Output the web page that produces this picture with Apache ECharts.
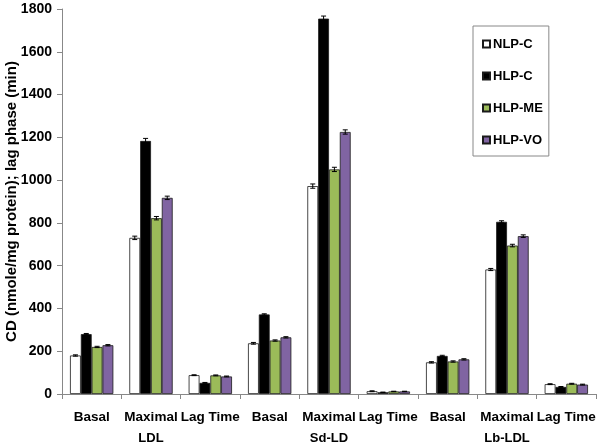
<!DOCTYPE html>
<html>
<head>
<meta charset="utf-8">
<script src="https://cdn.jsdelivr.net/npm/echarts@6/dist/echarts.min.js"></script>
<style>html,body{margin:0;padding:0;background:#fff}#c{width:600px;height:448px}</style>
</head>
<body>
<div id="c"></div>
<script>
const categories = ['Basal','Maximal','Lag Time','Basal','Maximal','Lag Time','Basal','Maximal','Lag Time'];
const groups = ['LDL','Sd-LD','Lb-LDL'];
const seriesNames = ['NLP-C','HLP-C','HLP-ME','HLP-VO'];
const nlpC  = [180, 730, 88, 237, 972, 13, 148, 582, 46];
const hlpC  = [280, 1183, 52, 372, 1755, 8, 178, 805, 33];
const hlpME = [220, 822, 87, 250, 1050, 12, 152, 694, 48];
const hlpVO = [228, 917, 82, 265, 1225, 12, 162, 738, 44];
const nlpCErr  = [3, 8, 2, 4, 10, 2, 3, 5, 2];
const hlpCErr  = [3, 12, 2, 3, 12, 1, 3, 5, 2];
const hlpMEErr = [3, 8, 2, 3, 10, 1, 3, 6, 2];
const hlpVOErr = [3, 8, 2, 3, 10, 1, 3, 6, 2];
const yTicks = [0, 200, 400, 600, 800, 1000, 1200, 1400, 1600, 1800];

const values = [nlpC, hlpC, hlpME, hlpVO];
const errs = [nlpCErr, hlpCErr, hlpMEErr, hlpVOErr];
const colors = ['#ffffff', '#000000', '#9bbb59', '#8064a2'];
const gapFrac = 0.27;
const FONT = '"Liberation Sans", Arial, sans-serif';

const series = [];
values.forEach((vals, i) => {
  series.push({
    name: seriesNames[i], type: 'bar', data: vals,
    barGap: '0%', barCategoryGap: (gapFrac * 100) + '%',
    itemStyle: { color: colors[i], borderColor: '#1a1a1a', borderWidth: 0.8 },
    emphasis: { disabled: true }
  });
});
values.forEach((vals, i) => {
  series.push({
    name: 'err' + i, type: 'custom', z: 10,
    data: vals.map((v, k) => [k, v, errs[i][k]]),
    renderItem: function (params, api) {
      const k = api.value(0), v = api.value(1), e = api.value(2);
      const band = api.size([1, 0])[0];
      const total = band * (1 - gapFrac);
      const bw = total / 4;
      const base = api.coord([k, v]);
      const cx = base[0] - total / 2 + (i + 0.5) * bw;
      const top = api.coord([k, v + e])[1];
      const bot = api.coord([k, v - e])[1];
      const cap = 2.5;
      const st = { stroke: '#000', lineWidth: 1 };
      return { type: 'group', children: [
        { type: 'line', shape: { x1: cx, y1: top, x2: cx, y2: bot }, style: st },
        { type: 'line', shape: { x1: cx - cap, y1: top, x2: cx + cap, y2: top }, style: st },
        { type: 'line', shape: { x1: cx - cap, y1: bot, x2: cx + cap, y2: bot }, style: st }
      ]};
    }
  });
});

const chart = echarts.init(document.getElementById('c'), null, { renderer: 'canvas' });
chart.setOption({
  animation: false,
  backgroundColor: '#fff',
  grid: { left: 62, right: 4, top: 9, bottom: 54, containLabel: false, outerBoundsMode: 'none' },
  legend: {
    data: seriesNames,
    orient: 'vertical', left: 473, top: 26, width: 78,
    padding: [11, 6, 9, 9],
    borderColor: '#888', borderWidth: 1, backgroundColor: '#fff',
    itemWidth: 7, itemHeight: 7, itemGap: 18,
    icon: 'rect',
    textStyle: { fontFamily: FONT, fontWeight: 'bold', fontSize: 13, color: '#000', lineHeight: 14, padding: [0, 0, 0, -2] }
  },
  xAxis: [
    {
      type: 'category', data: categories, position: 'bottom',
      axisLine: { lineStyle: { color: '#888', width: 1 } },
      axisTick: { show: true, alignWithLabel: false, length: 5, lineStyle: { color: '#888' } },
      axisLabel: { margin: 16, interval: 0, fontFamily: FONT, fontWeight: 'bold', fontSize: 13.5, color: '#000' }
    },
    {
      type: 'category', data: groups, position: 'bottom', offset: 30,
      axisLine: { show: false }, axisTick: { show: false },
      axisLabel: { margin: 8, interval: 0, fontFamily: FONT, fontWeight: 'bold', fontSize: 13, color: '#000' }
    }
  ],
  yAxis: {
    type: 'value', min: yTicks[0], max: yTicks[yTicks.length - 1], interval: 200,
    name: 'CD (nmole/mg protein); lag phase (min)', nameLocation: 'middle', nameGap: 43,
    nameMoveOverlap: false,
    nameTextStyle: { fontFamily: FONT, fontWeight: 'bold', fontSize: 15, color: '#000' },
    axisLine: { show: true, lineStyle: { color: '#888', width: 1 } },
    axisTick: { show: true, length: 5, lineStyle: { color: '#888' } },
    splitLine: { show: false },
    axisLabel: { margin: 10, fontFamily: FONT, fontWeight: 'bold', fontSize: 14, color: '#000',
      formatter: function (v) { return String(v); } }
  },
  series: series
});
</script>
</body>
</html>
